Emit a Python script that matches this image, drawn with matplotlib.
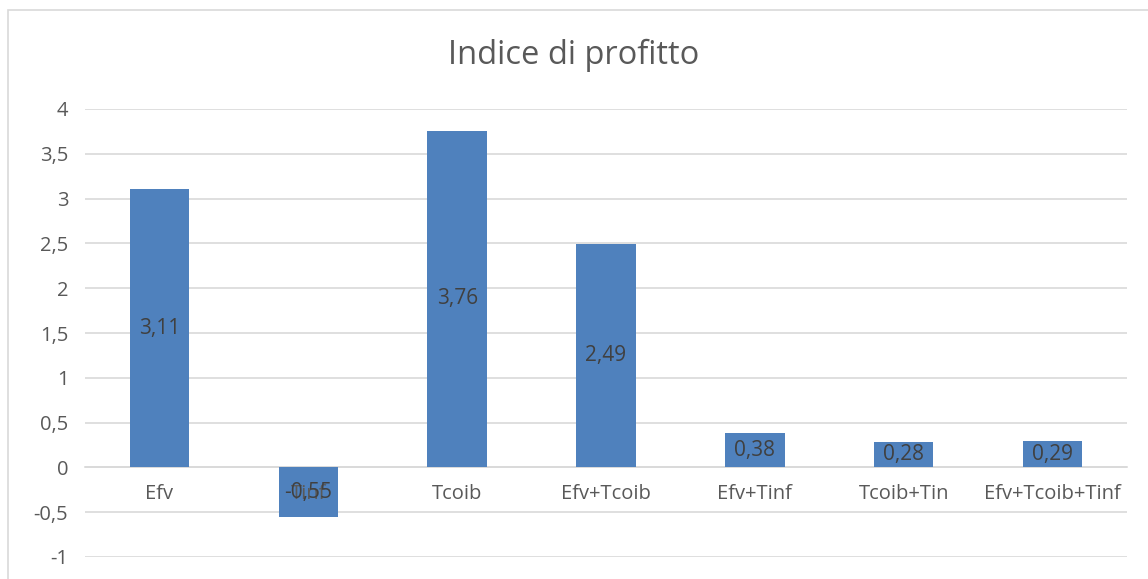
import matplotlib
matplotlib.use('agg')
import matplotlib.pyplot as plt
from matplotlib.patches import Rectangle

categories = ['Efv', 'Tinf', 'Tcoib', 'Efv+Tcoib', 'Efv+Tinf', 'Tcoib+Tin', 'Efv+Tcoib+Tinf']
values = [3.11, -0.55, 3.76, 2.49, 0.38, 0.28, 0.29]
y_ticks = [-1, -0.5, 0, 0.5, 1, 1.5, 2, 2.5, 3, 3.5, 4]

BAR_COLOR = '#4f81bd'
TEXT_COLOR = '#595959'
GRID_COLOR = '#d9d9d9'

plt.rcParams['font.family'] = ['Open Sans', 'DejaVu Sans']


def comma(v):
    s = '{:g}'.format(v) if float(v) != int(v) else str(int(v))
    return s.replace('.', ',')


fig = plt.figure(figsize=(11.48, 5.79), dpi=100)
fig.patch.set_facecolor('white')

# light chart frame, clipped by the figure edge on the right and bottom
fig.patches.append(Rectangle((8 / 1148, -0.1), 1.2, 1 - 10 / 579 + 0.1,
                             transform=fig.transFigure, fill=False,
                             edgecolor=GRID_COLOR, linewidth=1.2))

ax = fig.add_axes([85 / 1148, 1 - 557 / 579, (1127 - 85) / 1148, (557 - 109) / 579])
x = list(range(len(categories)))
bars = ax.bar(x, values, width=0.4, color=BAR_COLOR, zorder=3)

ax.set_ylim(-1, 4)
ax.set_xlim(-0.5, len(categories) - 0.5)
ax.set_yticks(y_ticks)
ax.set_yticklabels([comma(t) for t in y_ticks])
ax.yaxis.grid(True, color=GRID_COLOR, linewidth=1.2, zorder=0)
ax.tick_params(axis='y', length=0, pad=12, labelsize=14.5, labelcolor=TEXT_COLOR)

# category names sit just under the zero line, drawn over the bars
ax.spines['bottom'].set_position(('data', 0))
ax.set_xticks(x)
ax.set_xticklabels(categories)
ax.tick_params(axis='x', length=0, pad=12, labelsize=14.5, labelcolor=TEXT_COLOR)
ax.xaxis.set_zorder(5)
for s in ['top', 'right', 'left']:
    ax.spines[s].set_visible(False)
ax.spines['bottom'].set_color(GRID_COLOR)
ax.spines['bottom'].set_linewidth(1.2)
ax.spines['bottom'].set_zorder(1)

# value labels centred in each bar
for xi, v in zip(x, values):
    ax.text(xi, v / 2, '{:.2f}'.format(v).replace('.', ','), ha='center', va='center',
            fontsize=15, color='#404040', zorder=6)

fig.text(0.5, 1 - 55 / 579, 'Indice di profitto', ha='center', va='center',
         fontsize=23.5, color=TEXT_COLOR)

fig.savefig('out.png', dpi=100)
